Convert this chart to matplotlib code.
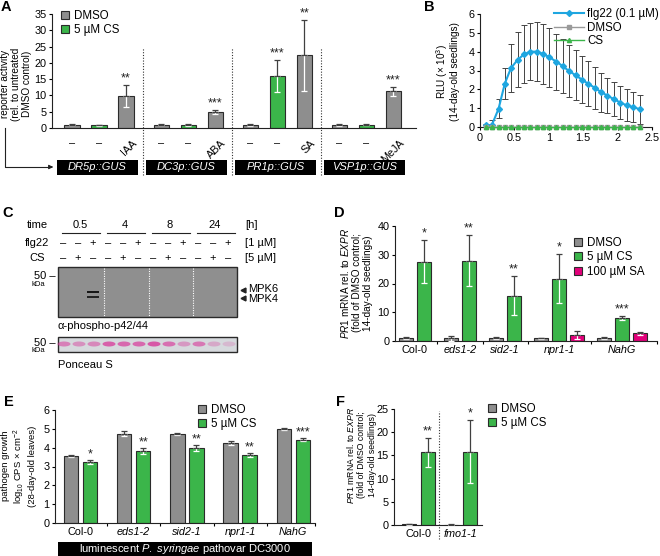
import numpy as np
import matplotlib
matplotlib.use("Agg")
import matplotlib.pyplot as plt
import matplotlib.transforms as mtransforms
from matplotlib.patches import Rectangle, Patch, Ellipse
from matplotlib.lines import Line2D

plt.rcParams['font.family'] = ['Liberation Sans', 'DejaVu Sans']
plt.rcParams['mathtext.fontset'] = 'custom'
plt.rcParams['mathtext.rm'] = 'Liberation Sans'
plt.rcParams['mathtext.it'] = 'Liberation Sans:italic'
plt.rcParams['font.size'] = 7.5

W, H = 660, 556
GREY = '#8e8e8e'
GREEN = '#3bb54a'
PINK = '#e2007a'
BLUE = '#1ea6e0'
EDGE = '#2b2b2b'
ERR = '#404040'
TICK = 7.8
LAB = 7.2

# ---- A: reporter lines
a_boxes = ['DR5p::GUS', 'DC3p::GUS', 'PR1p::GUS', 'VSP1p::GUS']
a_treat = ['IAA', 'ABA', 'SA', 'MeJA']
a_dmso = [1.0, 1.0, 1.0, 1.0]
a_dmso_err = [0.2, 0.2, 0.3, 0.3]
a_cs = [0.8, 1.0, 16.0, 1.0]
a_cs_err = [0.2, 0.3, 4.8, 0.2]
a_horm = [9.8, 4.9, 22.3, 11.3]
a_horm_err = [3.4, 0.7, 11.0, 1.4]
a_cs_sig = ['', '', '***', '']
a_horm_sig = ['**', '***', '**', '***']

# ---- B: ROS burst
b_time = [0.08, 0.17, 0.27, 0.36, 0.45, 0.55, 0.64, 0.73, 0.83, 0.92, 1.01, 1.11,
          1.2, 1.29, 1.39, 1.48, 1.57, 1.67, 1.76, 1.85, 1.95, 2.04, 2.13, 2.23, 2.32]
b_flg22 = [0.08, 0.08, 0.97, 2.3, 3.13, 3.58, 3.86, 4.0, 4.0, 3.88, 3.7, 3.47, 3.24,
           2.98, 2.75, 2.52, 2.3, 2.08, 1.85, 1.67, 1.47, 1.3, 1.15, 1.05, 0.95]
b_flg22_sd = [0.1, 0.3, 0.5, 0.83, 1.27, 1.45, 1.54, 1.52, 1.56, 1.59, 1.56, 1.49, 1.43,
              1.39, 1.32, 1.23, 1.19, 1.11, 1.03, 0.94, 0.9, 0.89, 0.85, 0.79, 0.77]
b_dmso = [0.02, 0.02, 0.02, 0.02, 0.02, 0.02, 0.02, 0.02, 0.02, 0.02, 0.02, 0.02, 0.02,
          0.02, 0.02, 0.02, 0.02, 0.02, 0.02, 0.02, 0.02, 0.02, 0.02, 0.02, 0.02]
b_cs = [0.01, 0.01, 0.01, 0.01, 0.01, 0.01, 0.01, 0.01, 0.01, 0.01, 0.01, 0.01, 0.01,
        0.01, 0.01, 0.01, 0.01, 0.01, 0.01, 0.01, 0.01, 0.01, 0.01, 0.01, 0.01]

# ---- C: immunoblot
c_times = ['0.5', '4', '8', '24']
c_flg22 = ['–', '–', '+', '–', '–', '+', '–', '–', '+', '–', '–', '+']
c_cs = ['–', '+', '–', '–', '+', '–', '–', '+', '–', '–', '+', '–']
c_mpk6 = [0, 0, 0.95, 0, 0, 0, 0, 0, 0, 0, 0, 0]
c_mpk4 = [0, 0, 0.85, 0, 0, 0, 0, 0, 0, 0, 0, 0]
c_ponceau = [0.55, 0.45, 0.5, 0.75, 0.7, 0.7, 0.8, 0.65, 0.4, 0.6, 0.3, 0.2]

# ---- D: PR1 in mutants
d_geno = ['Col-0', 'eds1-2', 'sid2-1', 'npr1-1', 'NahG']
d_dmso = [1.0, 1.0, 1.0, 1.0, 1.0]
d_dmso_err = [0.3, 0.9, 0.3, 0.2, 0.3]
d_cs = [27.6, 28.0, 15.7, 21.7, 8.0]
d_cs_err = [7.5, 8.7, 6.8, 8.4, 0.8]
d_cs_sig = ['*', '**', '**', '*', '***']
d_sa = [np.nan, np.nan, np.nan, 2.0, 2.7]
d_sa_err = [np.nan, np.nan, np.nan, 1.4, 0.5]

# ---- E: pathogen growth
e_geno = ['Col-0', 'eds1-2', 'sid2-1', 'npr1-1', 'NahG']
e_dmso = [3.55, 4.75, 4.71, 4.25, 4.97]
e_dmso_err = [0.05, 0.15, 0.05, 0.12, 0.05]
e_cs = [3.25, 3.83, 3.98, 3.6, 4.42]
e_cs_err = [0.1, 0.17, 0.17, 0.12, 0.08]
e_sig = ['*', '**', '**', '**', '***']

# ---- F: fmo1
f_geno = ['Col-0', 'fmo1-1']
f_dmso = [0.2, 0.1]
f_dmso_err = [0.1, 0.05]
f_cs = [15.7, 15.8]
f_cs_err = [3.1, 6.8]
f_sig = ['**', '*']


fig = plt.figure(figsize=(W / 100, H / 100), dpi=100)
ov = fig.add_axes([0, 0, 1, 1])
ov.set_xlim(0, W)
ov.set_ylim(H, 0)
ov.axis('off')


def px_axes(l, t, r, b):
    ax = fig.add_axes([l / W, 1 - b / H, (r - l) / W, (b - t) / H])
    ax.patch.set_alpha(0)
    for s in ['top', 'right']:
        ax.spines[s].set_visible(False)
    for s in ['left', 'bottom']:
        ax.spines[s].set_linewidth(0.8)
        ax.spines[s].set_color('#222222')
    ax.tick_params(axis='y', direction='out', length=2.5, width=0.8, pad=1.5,
                   labelsize=TICK)
    ax.tick_params(axis='x', length=0, labelsize=TICK, pad=3)
    return ax


def bars(ax, x, y, e, color, w):
    x = np.asarray(x, float)
    y = np.asarray(y, float)
    e = np.asarray(e, float)
    ok = ~np.isnan(y)
    x, y, e = x[ok], y[ok], e[ok]
    ax.bar(x, y, width=w, color=color, edgecolor=EDGE, linewidth=0.8, zorder=2)
    ax.errorbar(x, y, yerr=[e, 0 * e], fmt='none', ecolor='white', elinewidth=0.9,
                capsize=2.2, capthick=0.9, zorder=3)
    ax.errorbar(x, y, yerr=[0 * e, e], fmt='none', ecolor=ERR, elinewidth=0.9,
                capsize=2.2, capthick=0.9, zorder=4)


def stars(ax, x, y, e, sig, off):
    for xi, yi, ei, s in zip(x, y, e, sig):
        if s:
            ax.text(xi, yi + ei + off, s, ha='center', va='bottom', fontsize=9,
                    color='#222222')


def sq_legend(ax, labels, colors, x, y):
    hs = [Patch(facecolor=c, edgecolor=EDGE, linewidth=0.8) for c in colors]
    ax.legend(hs, labels, loc='upper left', bbox_to_anchor=(x / W, 1 - y / H),
              bbox_transform=fig.transFigure, frameon=False, fontsize=8.3,
              handlelength=0.7, handleheight=0.7, handletextpad=0.4,
              labelspacing=0.2, borderpad=0, borderaxespad=0)


def ylab(x, y, s, fs=LAB, ls=1.1):
    ov.text(x, y, s, rotation=90, ha='center', va='center', fontsize=fs,
            linespacing=ls, multialignment='center')


# ================= A
axA = px_axes(52, 14, 416, 128)
gstep = 3.3
xs_d = [g * gstep for g in range(4)]
xs_c = [g * gstep + 1 for g in range(4)]
xs_h = [g * gstep + 2 for g in range(4)]
bars(axA, xs_d, a_dmso, a_dmso_err, GREY, 0.56)
bars(axA, xs_c, a_cs, a_cs_err, GREEN, 0.56)
bars(axA, xs_h, a_horm, a_horm_err, GREY, 0.56)
stars(axA, xs_c, a_cs, a_cs_err, a_cs_sig, 0.1)
stars(axA, xs_h, a_horm, a_horm_err, a_horm_sig, 0.1)
axA.set_xlim(-0.74, 12.74)
axA.set_ylim(0, 35)
axA.set_yticks(range(0, 36, 5))
ticks, labs = [], []
for g in range(4):
    ticks += [xs_d[g], xs_c[g], xs_h[g] + 0.2]
    labs += ['–', '–', a_treat[g]]
axA.set_xticks(ticks)
axA.set_xticklabels(labs)
for lb in axA.get_xticklabels():
    if lb.get_text() != '–':
        lb.set_rotation(45)
        lb.set_ha('right')
        lb.set_va('top')
        lb.set_rotation_mode('anchor')
axA.tick_params(axis='x', pad=7)
trA = mtransforms.blended_transform_factory(axA.transData, axA.transAxes)
for g in range(1, 4):
    axA.plot([g * gstep - 0.67] * 2, [-0.41, 0.70], transform=trA, clip_on=False,
             ls=(0, (1, 1.5)), color='#333333', lw=0.8)
for g in range(4):
    axA.add_patch(Rectangle((g * gstep - 0.56, -0.41), 3.0, 0.13, transform=trA,
                            clip_on=False, facecolor='black', edgecolor='none'))
    axA.text(g * gstep + 0.94, -0.345, a_boxes[g], transform=trA, ha='center',
             va='center', color='white', style='italic', fontsize=8)
sq_legend(axA, ['DMSO', '5 µM CS'], [GREY, GREEN], 61, 10)
ylab(16, 84, 'reporter activity\n(rel. to untreated\nDMSO control)')
ov.plot([5, 5, 50], [128, 167, 167], color='#222222', lw=0.8)
ov.annotate('', xy=(56, 167), xytext=(48, 167),
            arrowprops=dict(arrowstyle='-|>', color='#222222', lw=0.8,
                            mutation_scale=6))

# ================= B
axB = px_axes(480, 14, 652, 127)
axB.errorbar(b_time, b_flg22, yerr=b_flg22_sd, color=BLUE, lw=1.5, marker='D', ms=3,
             ecolor='#444444', elinewidth=0.7, capsize=2, capthick=0.7, zorder=3)
axB.plot(b_time, b_dmso, color='#9a9a9a', marker='s', ms=3, lw=1, clip_on=False,
         zorder=4)
axB.plot(b_time, b_cs, color=GREEN, marker='^', ms=3, lw=1, clip_on=False, zorder=5)
axB.set_xlim(0, 2.5)
axB.set_ylim(0, 6)
axB.set_xticks([0, 0.5, 1, 1.5, 2, 2.5])
axB.set_xticklabels(['0', '0.5', '1', '1.5', '2', '2.5'])
axB.set_yticks(range(0, 7))
axB.tick_params(axis='x', direction='out', length=2.5, width=0.8, pad=2)
hB = [Line2D([], [], color=BLUE, lw=1.5, marker='D', ms=3),
      Line2D([], [], color='#9a9a9a', lw=1, marker='s', ms=3),
      Line2D([], [], color=GREEN, lw=1, marker='^', ms=3)]
axB.legend(hB, ['flg22 (0.1 µM)', 'DMSO', 'CS'], loc='upper right',
           bbox_to_anchor=(659 / W, 1 - 8 / H), bbox_transform=fig.transFigure,
           frameon=False, fontsize=8.3, handlelength=2.6, handletextpad=0.3,
           labelspacing=0.15, borderpad=0, borderaxespad=0)
ylab(447, 72, 'RLU (× 10$^3$)\n(14-day-old seedlings)')

# ================= C (immunoblot drawn in pixel space)
CF = 8
lane_x = [63 + 15 * i for i in range(12)]
ov.text(37, 225, 'time', ha='center', va='center', fontsize=CF)
ov.text(37, 243, 'flg22', ha='center', va='center', fontsize=CF)
ov.text(37, 258, 'CS', ha='center', va='center', fontsize=CF)
for g, t in enumerate(c_times):
    x0 = lane_x[3 * g]
    ov.text(x0 + 17, 225, t, ha='center', va='center', fontsize=CF)
    ov.plot([x0 - 1, x0 + 37], [233, 233], color='#222222', lw=0.8)
for i, x in enumerate(lane_x):
    ov.text(x, 243, c_flg22[i], ha='center', va='center', fontsize=CF)
    ov.text(x, 258, c_cs[i], ha='center', va='center', fontsize=CF)
ov.text(245, 225, '[h]', ha='left', va='center', fontsize=CF)
ov.text(245, 243, '[1 µM]', ha='left', va='center', fontsize=CF)
ov.text(245, 258, '[5 µM]', ha='left', va='center', fontsize=CF)
ov.add_patch(Rectangle((58, 267), 179, 50, facecolor='#8f8f8f', edgecolor='#2a2a2a',
                       lw=1))
for xs in [104, 149, 193]:
    ov.plot([xs, xs], [268, 316], color='white', lw=0.8, ls=(0, (1, 1.2)))
for i, x in enumerate(lane_x):
    if c_mpk6[i] > 0:
        ov.add_patch(Rectangle((x - 6, 290.5), 12, 2.4, facecolor='#111111',
                               alpha=c_mpk6[i], edgecolor='none'))
    if c_mpk4[i] > 0:
        ov.add_patch(Rectangle((x - 6, 296), 12, 2.4, facecolor='#111111',
                               alpha=c_mpk4[i], edgecolor='none'))
ov.text(56, 276, '50 –', ha='right', va='center', fontsize=CF)
ov.text(38, 284, 'kDa', ha='center', va='center', fontsize=5.5)
ov.plot([243], [290], marker='<', color='#222222', ms=3.5)
ov.plot([243], [298], marker='<', color='#222222', ms=3.5)
ov.text(248, 289, 'MPK6', ha='left', va='center', fontsize=CF)
ov.text(248, 299, 'MPK4', ha='left', va='center', fontsize=CF)
ov.text(58, 326, 'α-phospho-p42/44', ha='left', va='center', fontsize=CF)
ov.add_patch(Rectangle((58, 337), 179, 15, facecolor='#d6d9dd', edgecolor='#2a2a2a',
                       lw=1))
for i, x in enumerate(lane_x):
    ov.add_patch(Ellipse((x + 1, 344), 13, 5, facecolor='#d8389a',
                         alpha=c_ponceau[i], edgecolor='none'))
ov.text(56, 343, '50 –', ha='right', va='center', fontsize=CF)
ov.text(38, 351, 'kDa', ha='center', va='center', fontsize=5.5)
ov.text(58, 365, 'Ponceau S', ha='left', va='center', fontsize=CF)

# ================= D
axD = px_axes(395, 226, 657, 341)
d_start = [0, 2.5, 5, 7.5, 11]
xd_d = [s for s in d_start]
xd_c = [s + 1 for s in d_start]
xd_s = [s + 2 for s in d_start]
bars(axD, xd_d, d_dmso, d_dmso_err, GREY, 0.8)
bars(axD, xd_c, d_cs, d_cs_err, GREEN, 0.8)
bars(axD, xd_s, d_sa, d_sa_err, PINK, 0.8)
stars(axD, xd_c, d_cs, d_cs_err, d_cs_sig, 0.2)
axD.set_xlim(-0.61, 13.94)
axD.set_ylim(0, 40)
axD.set_yticks(range(0, 41, 10))
cent = [s + (1 if not np.isnan(v) else 0.5) for s, v in zip(d_start, d_sa)]
axD.set_xticks(cent)
axD.set_xticklabels(d_geno)
axD.set_xticks([1.75, 4.25, 6.75, 10.25, 13.94], minor=True)
axD.tick_params(axis='x', which='minor', direction='out', length=2.5, width=0.8)
for lb in axD.get_xticklabels():
    if lb.get_text() != 'Col-0':
        lb.set_style('italic')
sq_legend(axD, ['DMSO', '5 µM CS', '100 µM SA'], [GREY, GREEN, PINK], 574, 237)
ylab(356, 283, '$\\it{PR1}$ mRNA rel. to $\\it{EXPR}$\n(fold of DMSO control;\n'
     '14-day-old seedlings)')

# ================= E
axE = px_axes(55, 410, 315, 523)
estep = 2.8
xe_d = [g * estep for g in range(5)]
xe_c = [g * estep + 1 for g in range(5)]
bars(axE, xe_d, e_dmso, e_dmso_err, GREY, 0.75)
bars(axE, xe_c, e_cs, e_cs_err, GREEN, 0.75)
stars(axE, xe_c, e_cs, e_cs_err, e_sig, -0.02)
axE.set_xlim(-0.84, 12.84)
axE.set_ylim(0, 6)
axE.set_yticks(range(0, 7))
axE.set_xticks([g * estep + 0.5 for g in range(5)])
axE.set_xticklabels(e_geno)
axE.set_xticks([1.9, 4.7, 7.5, 10.3, 12.84], minor=True)
axE.tick_params(axis='x', which='minor', direction='out', length=2.5, width=0.8)
for lb in axE.get_xticklabels():
    if lb.get_text() != 'Col-0':
        lb.set_style('italic')
sq_legend(axE, ['DMSO', '5 µM CS'], [GREY, GREEN], 198, 404)
ov.add_patch(Rectangle((58, 542), 254, 14, facecolor='black', edgecolor='none'))
ov.text(185, 549, 'luminescent $\\it{P.\\ syringae}$ pathovar DC3000', ha='center',
        va='center', color='white', fontsize=8)
ylab(19, 466, 'pathogen growth\nlog$_{10}$ CPS × cm$^{-2}$\n(28-day-old leaves)',
     fs=6.8, ls=1.2)

# ================= F
axF = px_axes(394, 409, 482, 525)
xf_d = [0, 2.2]
xf_c = [1, 3.2]
bars(axF, xf_d, f_dmso, f_dmso_err, GREY, 0.75)
bars(axF, xf_c, f_cs, f_cs_err, GREEN, 0.75)
stars(axF, xf_c, f_cs, f_cs_err, f_sig, 0.1)
axF.set_xlim(-0.79, 3.84)
axF.set_ylim(0, 25)
axF.set_yticks(range(0, 26, 5))
axF.set_xticks([0.5, 2.7])
axF.set_xticklabels(f_geno)
for lb in axF.get_xticklabels():
    if lb.get_text() != 'Col-0':
        lb.set_style('italic')
trF = mtransforms.blended_transform_factory(axF.transData, axF.transAxes)
axF.plot([1.6, 1.6], [-0.12, 0.98], transform=trF, clip_on=False,
         ls=(0, (1, 1.5)), color='#333333', lw=0.8)
sq_legend(axF, ['DMSO', '5 µM CS'], [GREY, GREEN], 488, 403)
ylab(361, 455, '$\\it{PR1}$ mRNA rel. to $\\it{EXPR}$\n(fold of DMSO control;\n'
     '14-day-old seedlings)', fs=6.3, ls=1.25)

# panel letters
for lt, (x, y) in zip('ABCDEF', [(1, 7), (424, 7), (2, 213), (334, 213), (4, 402),
                                  (336, 402)]):
    ov.text(x, y, lt, ha='left', va='center', fontsize=10.5, fontweight='bold')

fig.savefig('out.png', dpi=100)
